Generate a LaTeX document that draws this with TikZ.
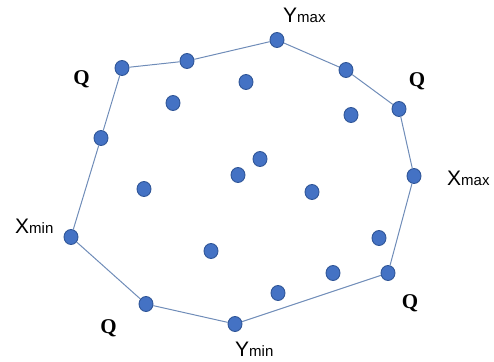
\documentclass[tikz,border=0pt]{standalone}
\usepackage{fontspec}
\setmainfont{Liberation Serif}
\newfontfamily\arialfont{Liberation Sans}
\usetikzlibrary{shapes.geometric}
\definecolor{dotblue}{HTML}{4472C4}
\definecolor{dotedge}{HTML}{2F5597}
\definecolor{hullline}{HTML}{6F8CB8}
\newcommand{\extlabel}[2]{{\arialfont\fontsize{21}{21}\selectfont #1\fontsize{15}{15}\selectfont #2}}

\begin{document}
\begin{tikzpicture}[x=1pt,y=-1pt,
  pt/.style={ellipse, fill=dotblue, draw=dotedge, line width=0.9pt,
    minimum width=14pt, minimum height=15pt, inner sep=0pt},
  hull/.style={draw=hullline, line width=1pt},
  qlab/.style={anchor=base, font=\bfseries\fontsize{21}{21}\selectfont, inner sep=0pt},
  extlab/.style={anchor=base west, inner sep=0pt}]
\useasboundingbox (0,0) rectangle (494,361);

% hull points
\node[pt] (ymax) at (277,40) {};
\node[pt] (h1) at (346,70) {};
\node[pt] (qne) at (399,109) {};
\node[pt] (xmax) at (414,176) {};
\node[pt] (qse) at (388,273) {};
\node[pt] (ymin) at (235,324) {};
\node[pt] (qsw) at (146,304) {};
\node[pt] (xmin) at (71,237) {};
\node[pt] (h2) at (101,138) {};
\node[pt] (qnw) at (122,68) {};
\node[pt] (h3) at (187,61) {};

% inner points
\node[pt] (i1) at (173,103) {};
\node[pt] (i2) at (246,82) {};
\node[pt] (i3) at (351,115) {};
\node[pt] (i4) at (260,159) {};
\node[pt] (i5) at (238,175) {};
\node[pt] (i6) at (312,192) {};
\node[pt] (i7) at (144,189) {};
\node[pt] (i8) at (211,251) {};
\node[pt] (i9) at (379,238) {};
\node[pt] (i10) at (333,273) {};
\node[pt] (i11) at (278,293) {};

\draw[hull] (ymax) -- (h1) -- (qne) -- (xmax) -- (qse) -- (ymin) -- (qsw)
  -- (xmin) -- (h2) -- (qnw) -- (h3) -- (ymax);

% labels
\node[extlab] (lymax) at (283,23) {\extlabel{Y}{max}};
\node[extlab] (lxmax) at (447,185) {\extlabel{X}{max}};
\node[extlab] (lymin) at (235,356) {\extlabel{Y}{min}};
\node[extlab] (lxmin) at (15,233) {\extlabel{X}{min}};

\node[qlab] (lqnw) at (81.5,84) {Q};
\node[qlab] (lqne) at (417,86) {Q};
\node[qlab] (lqsw) at (108.5,333) {Q};
\node[qlab] (lqse) at (410,308) {Q};
\end{tikzpicture}
\end{document}
